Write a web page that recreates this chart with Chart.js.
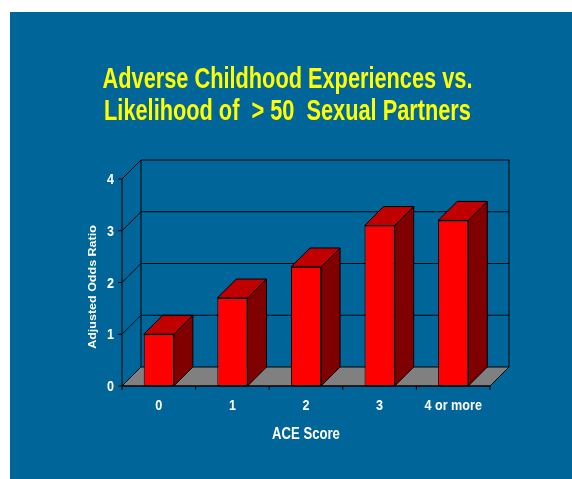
<!DOCTYPE html>
<html>
<head>
<meta charset="utf-8">
<script src="https://cdn.jsdelivr.net/npm/chart.js@4.4.1/dist/chart.umd.min.js"></script>
<style>
  html, body { margin: 0; padding: 0; background: #fff; }
  canvas { display: block; }
</style>
</head>
<body>
<canvas id="chart-ace" width="572" height="479"></canvas>
<script>
// data
const categories = ['0', '1', '2', '3', '4 or more'];
const oddsRatios = [1.0, 1.7, 2.3, 3.1, 3.2];
const yTicks = [0, 1, 2, 3, 4];
const titleLines = ['Adverse Childhood Experiences vs.', 'Likelihood of  > 50  Sexual Partners'];
const xTitle = 'ACE Score';
const yTitle = 'Adjusted Odds Ratio';

// look
const FONT = "'Liberation Sans', Arial, sans-serif";
const SLIDE_BLUE = '#006699';
const DEPTH_X = 19;
const DEPTH_Y = 19;

function squishText(ctx, text, x, y, sx, font, align, baseline) {
  ctx.save();
  ctx.translate(x, y);
  ctx.scale(sx, 1);
  ctx.font = font;
  ctx.textAlign = align;
  ctx.textBaseline = baseline;
  ctx.fillText(text, 0, 0);
  ctx.restore();
}

function poly(ctx, pts, fill) {
  ctx.beginPath();
  ctx.moveTo(pts[0][0], pts[0][1]);
  for (let i = 1; i < pts.length; i++) ctx.lineTo(pts[i][0], pts[i][1]);
  ctx.closePath();
  if (fill) { ctx.fillStyle = fill; ctx.fill(); }
  ctx.stroke();
}

const slide3d = {
  id: 'slide3d',
  beforeDraw(chart) {
    const ctx = chart.ctx;
    ctx.save();
    ctx.fillStyle = '#ffffff';
    ctx.fillRect(0, 0, chart.width, chart.height);
    ctx.fillStyle = SLIDE_BLUE;
    ctx.fillRect(10, 12, chart.width - 10, chart.height - 12);
    ctx.restore();
  },
  beforeDatasetsDraw(chart) {
    const ctx = chart.ctx;
    const area = chart.chartArea;
    const y = chart.scales.y;
    const base = y.getPixelForValue(0);
    ctx.save();
    ctx.lineWidth = 1;
    ctx.strokeStyle = '#000000';

    // floor
    poly(ctx, [
      [area.left, base], [area.right, base],
      [area.right + DEPTH_X, base - DEPTH_Y], [area.left + DEPTH_X, base - DEPTH_Y]
    ], '#808080');

    // back wall and side wall lines
    yTicks.forEach(v => {
      const py = y.getPixelForValue(v);
      ctx.beginPath();
      ctx.moveTo(area.left, py);
      ctx.lineTo(area.left + DEPTH_X, py - DEPTH_Y);
      if (v > 0) ctx.lineTo(area.right + DEPTH_X, py - DEPTH_Y);
      ctx.stroke();
    });
    const top = y.getPixelForValue(yTicks[yTicks.length - 1]);
    ctx.beginPath();
    ctx.moveTo(area.left + DEPTH_X, base - DEPTH_Y);
    ctx.lineTo(area.left + DEPTH_X, top - DEPTH_Y);
    ctx.moveTo(area.right + DEPTH_X, base - DEPTH_Y);
    ctx.lineTo(area.right + DEPTH_X, top - DEPTH_Y);
    ctx.stroke();

    // bar tops and sides
    chart.getDatasetMeta(0).data.forEach(bar => {
      const p = bar.getProps(['x', 'y', 'base', 'width'], true);
      const l = p.x - p.width / 2;
      const r = p.x + p.width / 2;
      poly(ctx, [[r, p.y], [r + DEPTH_X, p.y - DEPTH_Y], [r + DEPTH_X, p.base - DEPTH_Y], [r, p.base]], '#800000');
      poly(ctx, [[l, p.y], [l + DEPTH_X, p.y - DEPTH_Y], [r + DEPTH_X, p.y - DEPTH_Y], [r, p.y]], '#c00000');
    });
    ctx.restore();
  },
  afterDraw(chart) {
    const ctx = chart.ctx;
    const area = chart.chartArea;
    const y = chart.scales.y;
    const x = chart.scales.x;
    const base = y.getPixelForValue(0);
    const top = y.getPixelForValue(yTicks[yTicks.length - 1]);
    const cw = (area.right - area.left) / categories.length;

    ctx.save();
    ctx.strokeStyle = '#000000';
    ctx.lineWidth = 1;
    ctx.beginPath();
    ctx.moveTo(area.left, top);
    ctx.lineTo(area.left, base);
    ctx.lineTo(area.right, base);
    yTicks.forEach(v => {
      const py = y.getPixelForValue(v);
      ctx.moveTo(area.left - 4, py);
      ctx.lineTo(area.left, py);
    });
    for (let k = 0; k <= categories.length; k++) {
      ctx.moveTo(area.left + k * cw, base);
      ctx.lineTo(area.left + k * cw, base + 4);
    }
    ctx.stroke();

    // title
    ctx.fillStyle = '#ffff00';
    squishText(ctx, titleLines[0], 287.5, 88, 0.75, 'bold 29px ' + FONT, 'center', 'alphabetic');
    squishText(ctx, titleLines[1], 287.5, 120, 0.75, 'bold 29px ' + FONT, 'center', 'alphabetic');

    // tick labels
    ctx.fillStyle = '#ffffff';
    yTicks.forEach(v => {
      squishText(ctx, String(v), 114, y.getPixelForValue(v) + 5, 0.9, 'bold 14px ' + FONT, 'right', 'alphabetic');
    });
    categories.forEach((c, i) => {
      squishText(ctx, c, x.getPixelForValue(i), 410, 0.9, 'bold 14px ' + FONT, 'center', 'alphabetic');
    });

    // axis titles
    squishText(ctx, xTitle, (area.left + area.right) / 2, 439, 0.82, 'bold 16px ' + FONT, 'center', 'alphabetic');
    ctx.save();
    ctx.translate(93, 287);
    ctx.rotate(-Math.PI / 2);
    ctx.scale(1, 0.8);
    ctx.font = 'bold 12.5px ' + FONT;
    ctx.textAlign = 'center';
    ctx.textBaseline = 'middle';
    ctx.fillText(yTitle, 0, 0);
    ctx.restore();
    ctx.restore();
  }
};

const ctxAce = document.getElementById('chart-ace');
const aceChart = new Chart(ctxAce, {
  type: 'bar',
  data: {
    labels: categories,
    datasets: [{
      label: 'Adjusted Odds Ratio',
      data: oddsRatios,
      backgroundColor: '#ff0000',
      borderColor: '#000000',
      borderWidth: 1,
      borderSkipped: false,
      barPercentage: 0.41,
      categoryPercentage: 1
    }]
  },
  options: {
    responsive: false,
    animation: false,
    layout: { padding: { left: 122, right: 82, top: 179, bottom: 93 } },
    plugins: {
      legend: { display: false },
      tooltip: { enabled: false },
      title: { display: false }
    },
    scales: {
      x: { display: false, offset: true },
      y: { display: false, min: 0, max: 4 }
    }
  },
  plugins: [slide3d]
});
</script>
</body>
</html>
